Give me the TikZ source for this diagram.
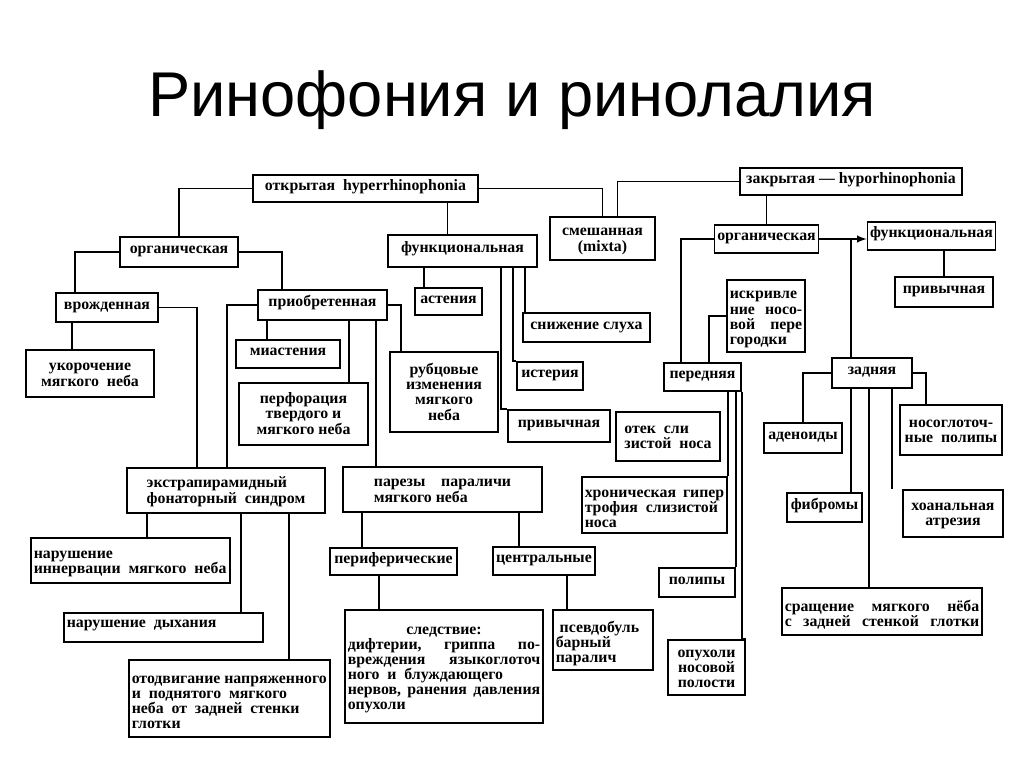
\documentclass[tikz,border=0pt]{standalone}
\usepackage{fontspec}
\setmainfont{Liberation Serif}
\newfontfamily\titlefont{Liberation Sans}
\usetikzlibrary{calc}

\newcommand\bxfont{\fontsize{9}{8.6}\selectfont\bfseries}
% stacked lines, set a little lower in the box: centred / left / full width
\newcommand\low[2]{\raisebox{#1}[\height][\depth]{#2}}
\newcommand\rows[1]{\low{-1pt}{\begin{tabular}{@{}c@{}}#1\end{tabular}}}
\newcommand\lrows[1]{\low{-1pt}{\begin{tabular}{@{}l@{}}#1\end{tabular}}}
\newcommand\pbox[2]{\low{-2pt}{\parbox{#1}{#2}}}

\tikzset{
  box/.style={draw, line width=0.9pt, inner sep=1.5pt, font=\bxfont},
  word/.style={box, text height=5.2pt, text depth=3pt},
  sz/.style 2 args={minimum width=#1*0.02cm, minimum height=#2*0.02cm},
  link/.style={line width=0.9pt},
}

\begin{document}
\begin{tikzpicture}[x=0.02cm, y=-0.02cm]
  \useasboundingbox (0,0) rectangle (1024,767);

  % Title
  \node[font=\titlefont\fontsize{36}{40}\selectfont] (title) at (512,100) {Ринофония и ринолалия};

  % Top level boxes
  \node[word, sz={225}{27}] (open) at (365.5,188.5) {открытая\ \ hyperrhinophonia};
  \node[word, sz={222}{27}] (closed) at (851,181.5) {закрытая — hyporhinophonia};
  \node[box, sz={105}{43}] (mixta) at (602.5,238.5) {\rows{смешанная\\(mixta)}};

  % Open branch
  \node[word, sz={118}{30}] (org1) at (179,252) {органическая};
  \node[word, sz={149}{32}] (func1) at (462.5,251) {функциональная};
  \node[word, sz={102}{29}] (vrozh) at (107,307.5) {врожденная};
  \node[word, sz={129}{30}] (priobr) at (322.5,305) {приобретенная};
  \node[box, sz={128}{47}] (ukor) at (90,373.5) {\rows{укорочение\\мягкого\ \ неба}};
  \node[word, sz={104}{28}] (miast) at (288,354) {миастения};
  \node[box, sz={129}{62}] (perf) at (303.5,414) {\rows{перфорация\\твердого и\\мягкого неба}};
  \node[word, sz={67}{27}] (asten) at (448.5,301.5) {астения};
  \node[box, sz={108}{80}] (rubc) at (444,392) {\rows{рубцовые\\изменения\\мягкого\\неба}};
  \node[word, sz={127}{29}] (sluh) at (586.5,327.5) {снижение слуха};
  \node[word, sz={66}{28}] (ister) at (550,376) {истерия};
  \node[word, sz={102}{32}] (priv1) at (559,426) {привычная};

  % Lower left part
  \node[box, sz={198}{45}] (ekstr) at (226,490.5) {\lrows{экстрапирамидный\\фонаторный\ \ синдром}};
  \node[box, sz={199}{45}] (parez) at (442.5,489.5) {\lrows{парезы\quad параличи\\мягкого неба}};
  \node[box, sz={199}{45}] (innerv) at (130.5,560.5) {\pbox{3.87cm}{нарушение\\иннервации~~мягкого~~неба}};
  \node[word, sz={199}{29}] (dyh) at (163.5,627.5) {\parbox{3.87cm}{нарушение~~дыхания}};
  \node[box, sz={201}{77}] (otodv) at (229.5,698.5) {\pbox{3.91cm}{отодвигание~напряженного\\и~~поднятого~~мягкого\\неба~~от~~задней~~стенки\\глотки}};
  \node[word, sz={127}{27}] (perif) at (393.5,561.5) {периферические};
  \node[word, sz={102}{28}] (centr) at (544,561) {центральные};
  \node[box, sz={198}{113}] (sledst) at (444,666.5) {\pbox{3.85cm}{\hspace*{\fill}следствие:\hspace*{\fill}\null\\дифтерии,\hfill гриппа\hfill по-\\вреждения\hfill языкоглоточ\\ного~~и~~блуждающего\\нервов,\hfill ранения\hfill давления\\опухоли}};
  \node[box, sz={100}{60}] (pseudo) at (603,640) {\pbox{1.89cm}{\ псевдобуль\\барный\\паралич}};

  % Closed branch
  \node[word, sz={103}{28}] (org2) at (766.5,239) {органическая};
  \node[word, sz={123}{28}] (func2) at (931.5,236) {функциональная};
  \node[word, sz={98}{30}] (priv2) at (944,292) {привычная};
  \node[box, sz={78}{72}] (iskr) at (766,316) {\pbox{1.45cm}{искривле\\ние\hfill носо-\\вой\hfill пере\\городки}};
  \node[word, sz={77}{28}] (pered) at (702.5,377) {передняя};
  \node[box, sz={104}{49}] (otek) at (668,436.5) {\lrows{отек\ \ сли\\зистой\ \ носа}};
  \node[box, sz={145}{56}] (hron) at (654.5,505) {\pbox{2.79cm}{хроническая\hfill гипер\\трофия~~слизистой\\носа}};
  \node[word, sz={76}{29}] (polip) at (697,582.5) {полипы};
  \node[box, sz={77}{55}] (opuh) at (706.5,667.5) {\rows{опухоли\\носовой\\полости}};
  \node[word, sz={80}{30}] (zadn) at (872,373) {задняя};
  \node[word, sz={78}{30}] (aden) at (803,438) {аденоиды};
  \node[box, sz={102}{50}] (nosog) at (951,430) {\rows{носоглоточ-\\ные\ \ полипы}};
  \node[word, sz={75}{29}] (fibr) at (824.5,507.5) {фибромы};
  \node[box, sz={100}{47}] (hoan) at (953,513.5) {\rows{хоанальная\\атрезия}};
  \node[box, sz={200}{47}] (sraz) at (882,611.5) {\pbox{3.89cm}{сращение\hfill мягкого\hfill нёба\\с\hfill задней\hfill стенкой\hfill глотки}};

  % Top connectors
  \draw[link] (open.west) -| (org1.north);
  \draw[link] ($(func1.north)+(-15,0)$) coordinate (f1) -- (f1 |- open.south);
  \draw[link] (open.east) -| (mixta.north);
  \draw[link] (closed.west) -| ($(mixta.north)+(15,0)$);
  \draw[link] (org2.north) -- (org2.north |- closed.south);
  \draw[link, -latex] (org2.east) -- (org2.east -| func2.west);
  \draw[link] (priv2.north) -- (priv2.north |- func2.south);

  % органическая (open)
  \draw[link] (org1.east) -| ($(priobr.north west)+(25,0)$);
  \draw[link] (org1.west) -| ($(vrozh.north west)+(20,0)$);
  \draw[link] ($(ukor.north west)+(47,0)$) coordinate (u1) -- (u1 |- vrozh.south);
  \draw[link] (vrozh.east) -| ($(ekstr.north west)+(71,0)$);
  \draw[link] (priobr.west) -| ($(ekstr.north west)+(101,0)$);
  \draw[link] ($(miast.north west)+(32,0)$) coordinate (m1) -- (m1 |- priobr.south);
  \draw[link] ($(perf.north west)+(111,0)$) coordinate (p2) -- (p2 |- priobr.south);
  \draw[link] ($(parez.north west)+(34,0)$) coordinate (p3) -- (p3 |- priobr.south);
  \draw[link] (priobr.east) -| ($(rubc.north west)+(12,0)$);

  % функциональная (open)
  \draw[link] ($(asten.north west)+(10,0)$) coordinate (a1) -- (a1 |- func1.south);
  \draw[link] ($(sluh.north west)+(3,0)$) coordinate (s1) -- (s1 |- func1.south);
  \draw[link] (ister.north west) -- ++(-3,0) coordinate (i1) -- (i1 |- func1.south);
  \draw[link] (priv1.north west) -- ++(-6,0) coordinate (p1) -- (p1 |- func1.south);

  % lower left
  \draw[link] ($(innerv.north west)+(117,0)$) coordinate (e1) -- (e1 |- ekstr.south);
  \draw[link] ($(dyh.north west)+(178,0)$) coordinate (e2) -- (e2 |- ekstr.south);
  \draw[link] ($(otodv.north west)+(161,0)$) coordinate (e3) -- (e3 |- ekstr.south);
  \draw[link] ($(perif.north west)+(33,0)$) coordinate (r1) -- (r1 |- parez.south);
  \draw[link] ($(centr.north west)+(27,0)$) coordinate (r2) -- (r2 |- parez.south);
  \draw[link] ($(sledst.north west)+(35,0)$) coordinate (r3) -- (r3 |- perif.south);
  \draw[link] ($(pseudo.north west)+(15,0)$) coordinate (r4) -- (r4 |- centr.south);

  % органическая (closed): передняя
  \draw[link] (org2.west) -| ($(pered.north west)+(18,0)$);
  \draw[link] ($(pered.north west)+(46,0)$) |- (iskr.west);
  \draw[link] (hron.north east) -- (hron.north east |- pered.south);
  \draw[link] (polip.north east) -- (polip.north east |- pered.south);
  \draw[link] (pered.south east) |- (opuh.north east);

  % задняя
  \draw[link] ($(zadn.north west)+(20,0)$) coordinate (z1) -- (z1 |- org2.east);
  \draw[link] (zadn.west) -| (aden.north);
  \draw[link] (zadn.east) -| ($(nosog.north west)+(27,0)$);
  \draw[link] ($(fibr.north east)+(-12,0)$) coordinate (z2) -- (z2 |- zadn.south);
  \draw[link] ($(sraz.north west)+(88,0)$) coordinate (z3) -- (z3 |- zadn.south);
  \draw[link] ($(hoan.north west)+(-10,0)$) coordinate (z4) -- (z4 |- zadn.south);
\end{tikzpicture}
\end{document}
